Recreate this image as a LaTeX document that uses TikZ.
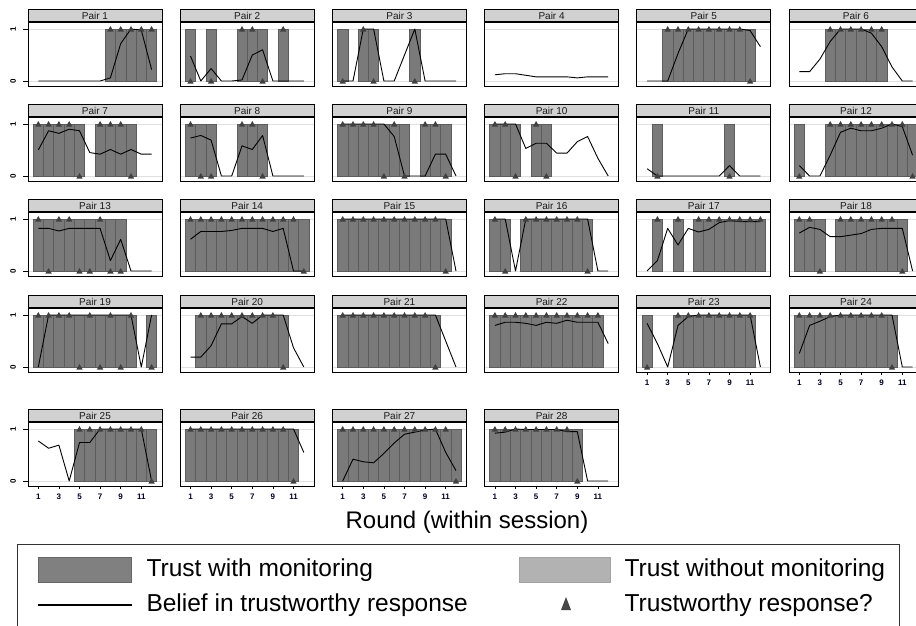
\documentclass[tikz,border=0pt]{standalone}
\usepackage{fontspec}
\setmainfont{Liberation Sans}
\usetikzlibrary{calc}

\tikzset{
    trustbar/.style={fill=black!52, draw=black!64, line width=0.7pt},
    belief/.style={black, line width=0.9pt, line join=round},
    resp/.style={fill=black!75},
    gridln/.style={black!12, line width=1pt},
    panelframe/.style={draw=black, line width=0.9pt},
    pairhead/.style={fill=black!18, draw=black, line width=0.9pt},
}

% #1 column, #2 top, #3 pair, #4 trust rounds, #5 trustworthy, #6 not trustworthy, #7 belief
\newcommand\pairpanel[7]{%
    \begin{scope}[shift={(28+152.2*#1,#2)}]
        \fill[white] (0,13) rectangle (134,77);
        \draw[gridln] (0,20) -- (134,20) (0,72) -- (134,72);
        \begin{scope}[shift={(0,72)}, x=10.3pt, y=52pt]
            \foreach \r in {#4} {\draw[trustbar] (\r-0.5,0) rectangle (\r+0.5,1);}
            \path \foreach \v [count=\i] in {#7} {coordinate (b\i) at (\i,\v)};
            \draw[belief] (b1) \foreach \i in {2,...,12} {-- (b\i)};
            \foreach \r in {#5} {\fill[resp] ([yshift=3pt]\r,1) -- ++(3.2pt,-5.6pt) -- ++(-6.4pt,0) -- cycle;}
            \foreach \r in {#6} {\fill[resp] ([yshift=3pt]\r,0) -- ++(3.2pt,-5.6pt) -- ++(-6.4pt,0) -- cycle;}
        \end{scope}
        \draw[panelframe] (0,13) rectangle (134,77);
        \draw[pairhead] (0,0) rectangle (134,13);
        \draw[line width=1.8pt] (0,13) -- (134,13);
        \node[font=\fontsize{10}{10}\selectfont, text=black!90, inner sep=0pt] (head#3) at (67,6.7) {Pair #3};
    \end{scope}}

\begin{document}
\begin{tikzpicture}[x=1pt, y=-1pt]
    \clip (0,0) rectangle (916,625);
    \fill[white] (0,0) rectangle (916,625);

    % row 1
    \pairpanel{0}{9}{1}{8,...,12}{8,...,12}{}{0,0,0,0,0,0,0,0.06,0.72,1,0.98,0.22}
    \pairpanel{1}{9}{2}{1,3,6,7,8,10}{6,7,10}{1,3,8}{0.48,0,0.24,0,0,0.02,0.5,0.6,0,0,0,0}
    \pairpanel{2}{9}{3}{1,3,4,8}{3}{1,4,8}{0,0,1,1,0,0,0.5,1,0,0,0,0}
    \pairpanel{3}{9}{4}{}{}{}{0.12,0.14,0.14,0.11,0.08,0.08,0.08,0.08,0.06,0.08,0.08,0.08}
    \pairpanel{4}{9}{5}{3,...,11}{3,...,10}{11}{0,0,0,0.53,1,1,1,1,1,1,0.97,0.66}
    \pairpanel{5}{9}{6}{4,...,9}{4,...,9}{}{0.18,0.18,0.42,0.76,1,1,1,0.92,0.66,0.27,0,0}

    % row 2
    \pairpanel{0}{104}{7}{1,2,3,4,5,7,8,9,10}{1,2,3,4,7,8,9}{5,10}{0.5,0.87,0.82,0.9,0.87,0.45,0.42,0.51,0.42,0.51,0.42,0.42}
    \pairpanel{1}{104}{8}{1,2,3,6,7,8}{1,6,7}{2,3,8}{0.73,0.78,0.69,0,0,0.58,0.51,0.78,0,0,0,0}
    \pairpanel{2}{104}{9}{1,2,3,4,5,6,7,9,10,11}{1,2,3,4,6,9,10}{5,7,11}{1,1,1,1,1,0.76,0,0,0,0.42,0.42,0}
    \pairpanel{3}{104}{10}{1,2,3,5,6}{1,2,5}{3,6}{1,1,1,0.53,0.63,0.63,0.44,0.44,0.66,0.76,0.34,0}
    \pairpanel{4}{104}{11}{2,9}{}{2,9}{0.14,0,0,0,0,0,0,0,0.2,0,0,0}
    \pairpanel{5}{104}{12}{1,4,5,6,7,8,9,10,11,12}{4,...,11}{1,12}{0.2,0,0,0.4,0.84,0.92,0.87,0.87,0.92,1,0.95,0.4}

    % row 3
    \pairpanel{0}{199}{13}{1,...,9}{1,3,4,7}{2,5,6,8,9}{0.82,0.82,0.77,0.82,0.82,0.82,0.82,0.2,0.61,0,0,0}
    \pairpanel{1}{199}{14}{1,...,12}{1,...,11}{12}{0.61,0.76,0.76,0.76,0.78,0.82,0.82,0.82,0.76,0.82,0,0}
    \pairpanel{2}{199}{15}{1,...,11}{1,...,10}{11}{1,1,1,1,1,1,1,1,1,1,1,0}
    \pairpanel{3}{199}{16}{1,2,4,5,6,7,8,9,10}{1,4,5,6,7,8,9}{2,10}{1,1,0,1,1,1,1,1,1,1,0,0}
    \pairpanel{4}{199}{17}{2,4,6,7,8,9,10,11,12}{2,4,6,7,8,9,10,11,12}{}{0,0.2,0.82,0.5,0.82,0.75,0.8,0.93,0.97,0.95,0.95,0.95}
    \pairpanel{5}{199}{18}{1,2,3,5,6,7,8,9,10,11}{1,2,5,6,7,8,9,10}{3,11}{0.73,0.84,0.8,0.66,0.66,0.69,0.72,0.8,0.82,0.82,0.82,0}

    % row 4
    \pairpanel{0}{295}{19}{1,...,10,12}{1,2,3,4,6,8,10}{5,7,9,12}{0,1,1,1,1,1,1,1,1,1,0,1}
    \pairpanel{1}{295}{20}{2,...,10}{2,...,9}{10}{0.19,0.19,0.41,0.83,0.83,0.97,0.84,1,1,1,0.37,0}
    \pairpanel{2}{295}{21}{1,...,10}{1,...,9}{10}{1,1,1,1,1,1,1,1,1,1,0.5,0}
    \pairpanel{3}{295}{22}{1,...,11}{1,...,11}{}{0.8,0.86,0.86,0.84,0.8,0.86,0.84,0.9,0.86,0.86,0.86,0.45}
    \pairpanel{4}{295}{23}{1,4,5,6,7,8,9,10,11}{4,...,11}{1}{0.84,0.45,0,0.8,0.97,1,1,1,1,1,1,0}
    \pairpanel{5}{295}{24}{1,...,10}{1,...,9}{10}{0.26,0.8,0.88,0.97,1,1,1,1,1,1,0,0}

    % row 5
    \pairpanel{0}{409}{25}{5,...,12}{5,...,11}{12}{0.77,0.63,0.69,0,0.74,0.74,1,1,1,1,1,0}
    \pairpanel{1}{409}{26}{1,...,11}{1,...,10}{11}{1,1,1,1,1,1,1,1,1,1,1,0.55}
    \pairpanel{2}{409}{27}{1,...,12}{1,...,11}{12}{0,0.42,0.37,0.35,0.53,0.73,0.9,0.94,0.98,1,0.55,0.2}
    \pairpanel{3}{409}{28}{1,...,9}{1,...,8}{9}{0.92,0.94,1,0.99,0.99,0.99,0.99,0.95,0.95,0,0,0}

    % y axis
    \foreach \t in {9,104,199,295,409} {
        \draw[line width=0.9pt] (23,\t+20) -- (28,\t+20) (23,\t+72) -- (28,\t+72);
        \node[rotate=90, font=\bfseries\fontsize{8}{8}\selectfont] at (13,\t+20) {1};
        \node[rotate=90, font=\bfseries\fontsize{8}{8}\selectfont] at (13,\t+72) {0};
    }

    % x axis
    \foreach \c/\t in {4/295,5/295,0/409,1/409,2/409,3/409} {
        \foreach \r in {1,3,...,11} {
            \draw[line width=0.8pt] (28+152.2*\c+10.3*\r,\t+77) -- (28+152.2*\c+10.3*\r,\t+80);
            \node[font=\bfseries\fontsize{8}{8}\selectfont, text=black!85!blue] at (28+152.2*\c+10.3*\r,\t+88) {\r};
        }
    }

    \node[font=\fontsize{24}{28}\selectfont] (xtitle) at (467,522) {Round (within session)};

    % legend
    \draw[black!80, line width=0.9pt] (17,544) rectangle (899,660);
    \draw[fill=black!50, draw=black!60] (38,557) rectangle (131,582);
    \draw[fill=black!30, draw=black!36] (519,557) rectangle (610,582);
    \draw[line width=1.6pt] (38,605) -- (132,605);
    \fill[black!72] (566,597) -- (571,610) -- (561,610) -- cycle;
    \node[anchor=west, font=\fontsize{24.5}{28}\selectfont] (lgmon) at (143,570) {Trust with monitoring};
    \node[anchor=west, font=\fontsize{24.5}{28}\selectfont] (lgnomon) at (621,570) {Trust without monitoring};
    \node[anchor=west, font=\fontsize{24.5}{28}\selectfont] (lgbelief) at (143,605) {Belief in trustworthy response};
    \node[anchor=west, font=\fontsize{24.5}{28}\selectfont] (lgresp) at (621,605) {Trustworthy response?};
\end{tikzpicture}
\end{document}
